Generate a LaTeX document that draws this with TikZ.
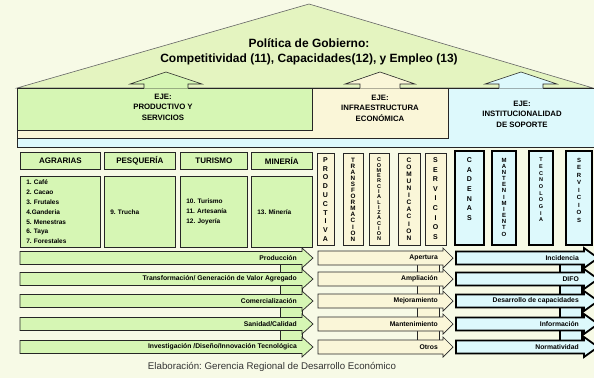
\documentclass[tikz,border=0pt]{standalone}
\usepackage{fontspec}
\setmainfont{Liberation Sans}
\usetikzlibrary{shadows}
\frenchspacing

\definecolor{bgcol}{HTML}{F7FAE6}
\definecolor{roofcol}{HTML}{E4F4C0}
\definecolor{greencol}{HTML}{D6F6B4}
\definecolor{creamcol}{HTML}{FAF6D8}
\definecolor{cyancol}{HTML}{DDF9FC}

\tikzset{
  outline/.style={draw=black!85, line width=0.7pt},
  roof/.style={draw=black!60, line width=0.6pt, fill=roofcol},
  title/.style={align=center, font=\fontsize{12}{15}\selectfont\bfseries},
  ejetext/.style={align=center, font=\fontsize{7.8}{10.5}\selectfont\bfseries},
  sectorhead/.style={outline, fill=greencol, minimum width=#1, minimum height=17pt,
    anchor=north west, inner sep=0pt, font=\fontsize{8}{9}\selectfont\bfseries,
    drop shadow={shadow xshift=0.7pt, shadow yshift=-0.7pt, fill=black!85, opacity=1}},
  sectorlist/.style={outline, fill=greencol, minimum width=#1, minimum height=71pt,
    anchor=north west, inner xsep=6pt, text width=#1-12pt, align=left,
    font=\fontsize{6.5}{9.8}\selectfont\bfseries,
    drop shadow={shadow xshift=0.7pt, shadow yshift=-0.7pt, fill=black!85, opacity=1}},
  thinbox/.style={draw=black!85, line width=0.6pt, fill=creamcol},
  thickbox/.style={draw=black, line width=2pt, fill=cyancol},
  vletter/.style={inner sep=0pt, font=\fontsize{#1}{#1}\selectfont\bfseries},
  greenarrow/.style={outline, fill=greencol},
  creamarrow/.style={outline, fill=creamcol},
  cyanarrow/.style={draw=black, line width=1.8pt, fill=cyancol},
  rowlabel/.style={inner sep=0pt, font=\fontsize{6.8}{8}\selectfont\bfseries},
  footer/.style={font=\fontsize{9.7}{11}\selectfont, text=black!80}
}

% arrow pointing up into an axis box: fill, centre x, half head, half shaft
\newcommand\ejearrow[4]{%
  \fill[#1] (#2-#4,88.6) -- (#2-#4,84) -- (#2-#3,84) -- (#2,72) -- (#2+#3,84) -- (#2+#4,84) -- (#2+#4,88.6) -- cycle;
  \draw[black!85, line width=0.6pt] (#2-#4,88) -- (#2-#4,84) -- (#2-#3,84) -- (#2,72) -- (#2+#3,84) -- (#2+#4,84) -- (#2+#4,88);}

% vertical word: name, x, top y, bottom y, letter count, size, letters
\newcommand\vword[7]{%
  \foreach \l [count=\i from 0] in {#7}
    \node[vletter=#6] (#1-\i) at (#2,{#3+\i*(#4-#3)/(#5-1)}) {\l};}

% row arrow: name, style, left x, head base x, tip x, centre y, half body, label
\newcommand\rowarrow[8]{%
  \draw[#2] (#3,#6-#7) -- (#4,#6-#7) -- (#4,#6-10) -- (#5,#6) -- (#4,#6+10) -- (#4,#6+#7) -- (#3,#6+#7) -- cycle;
  \node[rowlabel, anchor=east] (#1) at (#4-5,#6) {#8};}

\begin{document}
\begin{tikzpicture}[x=1pt, y=-1pt]
\useasboundingbox[fill=bgcol] (0,0) rectangle (594,378);

% techo
\draw[roof] (17,88) -- (309,4) -- (593,88) -- cycle;
\node[title] (gob) at (309,52) {Política de Gobierno:\\Competitividad (11), Capacidades(12), y Empleo (13)};

% ejes
\draw[outline, fill=cyancol] (17,88) rectangle (600,147);
\draw[outline, fill=creamcol] (17,88) rectangle (448,138);
\draw[outline, fill=greencol] (17,88) rectangle (312,130);

\ejearrow{greencol}{166}{36}{22}
\ejearrow{creamcol}{380}{35}{20}
\ejearrow{cyancol}{521}{36}{22}

\node[ejetext] (ejeprod) at (163,107) {EJE:\\PRODUCTIVO Y\\SERVICIOS};
\node[ejetext] (ejeinfra) at (380,108) {EJE:\\INFRAESTRUCTURA\\ECONÓMICA};
\node[ejetext] (ejeinst) at (522,114) {EJE:\\INSTITUCIONALIDAD\\DE SOPORTE};

% sectores
\node[sectorhead=80pt] (agr) at (20,152) {AGRARIAS};
\node[sectorhead=71pt] (pes) at (104,152) {PESQUERÍA};
\node[sectorhead=67pt] (tur) at (180,152) {TURISMO};
\node[sectorhead=61pt] (min) at (251,152) {MINERÍA};

\node[sectorlist=80pt] (agrlist) at (20,176) {1. Café\\2. Cacao\\3. Frutales\\4.Ganderia\\5. Menestras\\6. Taya\\7. Forestales};
\node[sectorlist=71pt] (peslist) at (104,176) {9. Trucha};
\node[sectorlist=67pt] (turlist) at (180,176) {10. Turismo\\11. Artesanía\\12. Joyería};
\node[sectorlist=61pt] (minlist) at (251,176) {13. Minería};

% infraestructura
\draw[thinbox] (317,153) rectangle (334,245);
\draw[thinbox] (343,153) rectangle (363,245);
\draw[thinbox] (369,153) rectangle (389,245);
\draw[thinbox] (398,153) rectangle (420,245);
\draw[thinbox] (425,153) rectangle (446,245);
\vword{vprod}{325.5}{160}{239}{10}{7}{P,R,O,D,U,C,T,I,V,A}
\vword{vtrans}{353}{160}{239}{14}{6.3}{T,R,A,N,S,F,O,R,M,A,C,I,O,N}
\vword{vcom}{379}{160}{239}{16}{5.5}{C,O,M,E,R,C,I,A,L,I,Z,A,C,I,O,N}
\vword{vcomu}{409}{160}{238}{12}{6.5}{C,O,M,U,N,I,C,A,C,I,O,N}
\vword{vserv}{435.5}{160}{237}{9}{7}{S,E,R,V,I,C,I,O,S}

% institucionalidad
\draw[thickbox] (455,151) rectangle (484,245);
\draw[thickbox] (492,151) rectangle (516,245);
\draw[thickbox] (529,151) rectangle (553,245);
\draw[thickbox] (566,151) rectangle (592,245);
\vword{vcad}{469.5}{160}{218}{7}{7}{C,A,D,E,N,A,S}
\vword{vman}{504}{160}{234}{13}{6}{M,A,N,T,E,N,I,M,I,E,N,T,O}
\vword{vtec}{541}{160}{220}{10}{5.5}{T,E,C,N,O,L,O,G,I,A}
\vword{vser}{579}{160}{220}{9}{6}{S,E,R,V,I,C,I,O,S}

% filas
\foreach \ya/\yb in {258/279, 279/301, 301/324, 324/347} {
  \draw[greenarrow] (280,\ya) rectangle (302,\yb);
  \draw[creamarrow] (417,\ya) rectangle (439,\yb);
  \draw[cyanarrow] (560,\ya) rectangle (582,\yb);
}
\foreach \yc/\txt [count=\r] in {258/Producción, 279/{Transformación/ Generación de Valor Agregado},
    301/Comercialización, 324/{Sanidad/Calidad}, 347/{Investigación /Diseño/Innovación Tecnológica}}
  \rowarrow{prow\r}{greenarrow}{20}{302}{313}{\yc}{6.5}{\txt};
\foreach \yc/\txt [count=\r] in {258/Apertura, 279/Ampliación, 301/Mejoramiento, 324/Mantenimiento, 347/Otros}
  \rowarrow{irow\r}{creamarrow}{318}{443}{453}{\yc}{7}{\txt};
\foreach \yc/\txt [count=\r] in {258/Incidencia, 279/DIFO, 301/Desarrollo de capacidades, 324/Información, 347/Normatividad}
  \rowarrow{srow\r}{cyanarrow}{456}{584}{598}{\yc}{6.5}{\txt};

\node[footer] (elab) at (272,367) {Elaboración: Gerencia Regional de Desarrollo Económico};
\end{tikzpicture}
\end{document}
